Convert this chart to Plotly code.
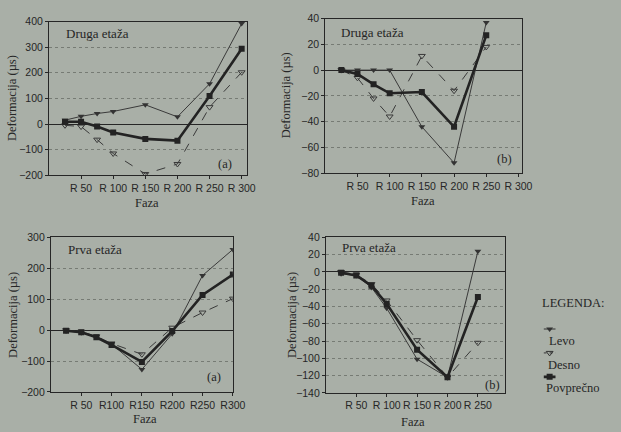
import plotly.graph_objects as go

# Measurement phases (x positions) and tick labels
faza_a = [25, 50, 75, 100, 150, 200, 250, 300]
faza_b = [25, 50, 75, 100, 150, 200, 250]
tick_vals = [50, 100, 150, 200, 250, 300]
tick_text = ["R 50", "R 100", "R 150", "R 200", "R 250", "R 300"]
tick_text_c = ["R 50", "R100", "R150", "R200", "R250", "R300"]

# Druga etaža (a)
druga_a_levo = [15, 30, 41, 49, 75, 28, 157, 392]
druga_a_desno = [-5, -10, -61, -115, -195, -156, 66, 202]
druga_a_povp = [9, 9, -10, -33, -58, -65, 109, 294]

# Druga etaža (b)
druga_b_levo = [0, 0, 0, 0, -44, -72, 37]
druga_b_desno = [0, -6, -22, -36, 11, -16, 18]
druga_b_povp = [0, -3, -11, -18, -17, -44, 27]

# Prva etaža (a)
prva_a_levo = [-2, -8, -22, -45, -127, -12, 177, 261]
prva_a_desno = [0, -5, -20, -43, -78, 8, 57, 102]
prva_a_povp = [-2, -7, -23, -48, -103, -3, 114, 180]

# Prva etaža (b)
prva_b_levo = [-2, -4, -18, -42, -101, -122, 24]
prva_b_desno = [0, -3, -14, -33, -79, -122, -82]
prva_b_povp = [-1, -4, -16, -37, -90, -122, -29]

BG = "#a9afa7"
INK = "#262626"
SERIF = "Liberation Serif, Times New Roman, serif"
SANS = "Liberation Sans, Arial, sans-serif"

fig = go.Figure()

panels = [
    dict(ax="", x=faza_a, levo=druga_a_levo, desno=druga_a_desno, povp=druga_a_povp,
         dom_x=[0.0805, 0.407], dom_y=[0.597, 0.963], xr=[0, 309], yr=[-200, 400], dy=100,
         ticks=tick_text),
    dict(ax="2", x=faza_b, levo=druga_b_levo, desno=druga_b_desno, povp=druga_b_povp,
         dom_x=[0.535, 0.858], dom_y=[0.602, 0.970], xr=[0, 305], yr=[-80, 40], dy=20,
         ticks=tick_text),
    dict(ax="3", x=faza_a, levo=prva_a_levo, desno=prva_a_desno, povp=prva_a_povp,
         dom_x=[0.0837, 0.383], dom_y=[0.081, 0.449], xr=[0, 300], yr=[-200, 300], dy=100,
         ticks=tick_text_c),
    dict(ax="4", x=faza_b, levo=prva_b_levo, desno=prva_b_desno, povp=prva_b_povp,
         dom_x=[0.536, 0.831], dom_y=[0.079, 0.449], xr=[0, 295], yr=[-140, 40], dy=20,
         ticks=tick_text),
]

for p in panels:
    xa, ya = "x" + p["ax"], "y" + p["ax"]
    fig.add_trace(go.Scatter(x=p["x"], y=p["desno"], xaxis=xa, yaxis=ya, mode="lines+markers",
                             line=dict(color="#3a3a3a", width=1, dash="dash"),
                             marker=dict(symbol="triangle-down-open", size=6, color="#3a3a3a",
                                         line=dict(width=1)),
                             showlegend=False))
    fig.add_trace(go.Scatter(x=p["x"], y=p["levo"], xaxis=xa, yaxis=ya, mode="lines+markers",
                             line=dict(color="#3a3a3a", width=1),
                             marker=dict(symbol="triangle-down", size=6, color="#333333"),
                             showlegend=False))
    fig.add_trace(go.Scatter(x=p["x"], y=p["povp"], xaxis=xa, yaxis=ya, mode="lines+markers",
                             line=dict(color="#232323", width=2.6),
                             marker=dict(symbol="square", size=6, color="#232323"),
                             showlegend=False))
    axis_common = dict(showline=True, linecolor=INK, linewidth=1, mirror=True,
                       ticks="outside", ticklen=3, tickcolor=INK,
                       tickfont=dict(family=SANS, size=10.5, color=INK))
    fig.update_layout(**{
        "xaxis" + p["ax"]: dict(domain=p["dom_x"], range=p["xr"], anchor=ya,
                                tickvals=tick_vals, ticktext=p["ticks"], showgrid=False,
                                zeroline=False, **axis_common),
        "yaxis" + p["ax"]: dict(domain=p["dom_y"], range=p["yr"], anchor=xa, dtick=p["dy"],
                                showgrid=True, gridcolor="#767b74", griddash="dot",
                                gridwidth=1, zeroline=True, zerolinecolor=INK,
                                zerolinewidth=1, **axis_common),
    })

# Legend key glyphs drawn on a small auxiliary axis
fig.add_trace(go.Scatter(x=[0, 1], y=[3, 3], xaxis="x5", yaxis="y5", mode="lines",
                         line=dict(color="#333", width=1), showlegend=False, hoverinfo="skip"))
fig.add_trace(go.Scatter(x=[0.5], y=[3], xaxis="x5", yaxis="y5", mode="markers",
                         marker=dict(symbol="triangle-down", size=6, color="#333"),
                         showlegend=False, hoverinfo="skip"))
fig.add_trace(go.Scatter(x=[0, 1], y=[2, 2], xaxis="x5", yaxis="y5", mode="lines",
                         line=dict(color="#333", width=1, dash="dot"), showlegend=False,
                         hoverinfo="skip"))
fig.add_trace(go.Scatter(x=[0.5], y=[2], xaxis="x5", yaxis="y5", mode="markers",
                         marker=dict(symbol="triangle-down-open", size=6, color="#333"),
                         showlegend=False, hoverinfo="skip"))
fig.add_trace(go.Scatter(x=[0, 1], y=[1, 1], xaxis="x5", yaxis="y5", mode="lines",
                         line=dict(color="#232323", width=2.6),
                         showlegend=False, hoverinfo="skip"))
fig.add_trace(go.Scatter(x=[0.5], y=[1], xaxis="x5", yaxis="y5", mode="markers",
                         marker=dict(symbol="square", size=6, color="#232323"),
                         showlegend=False, hoverinfo="skip"))
fig.update_layout(
    xaxis5=dict(domain=[0.894, 0.914], range=[0, 1], visible=False, anchor="y5"),
    yaxis5=dict(domain=[0.100, 0.248], range=[0.7, 3.3], visible=False, anchor="x5"),
)

ann = []


def text(x, y, s, size=11, family=SERIF, angle=0, xanchor="center"):
    ann.append(dict(x=x / 621, y=1 - y / 432, xref="paper", yref="paper", text=s,
                    showarrow=False, textangle=angle, xanchor=xanchor, yanchor="middle",
                    font=dict(family=family, size=size, color=INK)))


# Axis titles
for yx, yy in [(13, 95), (293, 92), (13, 318), (298, 318)]:
    text(yx, yy, "Deformacija (µs)", size=12.5, angle=-90)
for fx, fy in [(150, 203), (432, 201), (148, 425), (422, 428)]:
    text(fx, fy, "Faza", size=12.5)

# Panel titles and marks
text(65, 28, "Druga etaža", size=13, xanchor="left")
text(346, 27, "Druga etaža", size=13, xanchor="left")
text(67, 250, "Prva etaža", size=13, xanchor="left")
text(347, 248, "Prva etaža", size=13, xanchor="left")
text(230, 162, "(a)", size=12.5)
text(515, 157, "(b)", size=12.5)
text(219, 382, "(a)", size=12.5)
text(503, 390, "(b)", size=12.5)

# Legend text
text(552, 305, "LEGENDA:", size=12.5, xanchor="left")
text(559, 345, "Levo", size=12.5, xanchor="left")
text(558, 369, "Desno", size=12.5, xanchor="left")
text(556, 393, "Povprečno", size=12.5, xanchor="left")

fig.update_layout(
    width=621, height=432, margin=dict(l=0, r=0, t=0, b=0),
    paper_bgcolor=BG, plot_bgcolor=BG, annotations=ann, showlegend=False,
)

fig.write_html("out.html")
